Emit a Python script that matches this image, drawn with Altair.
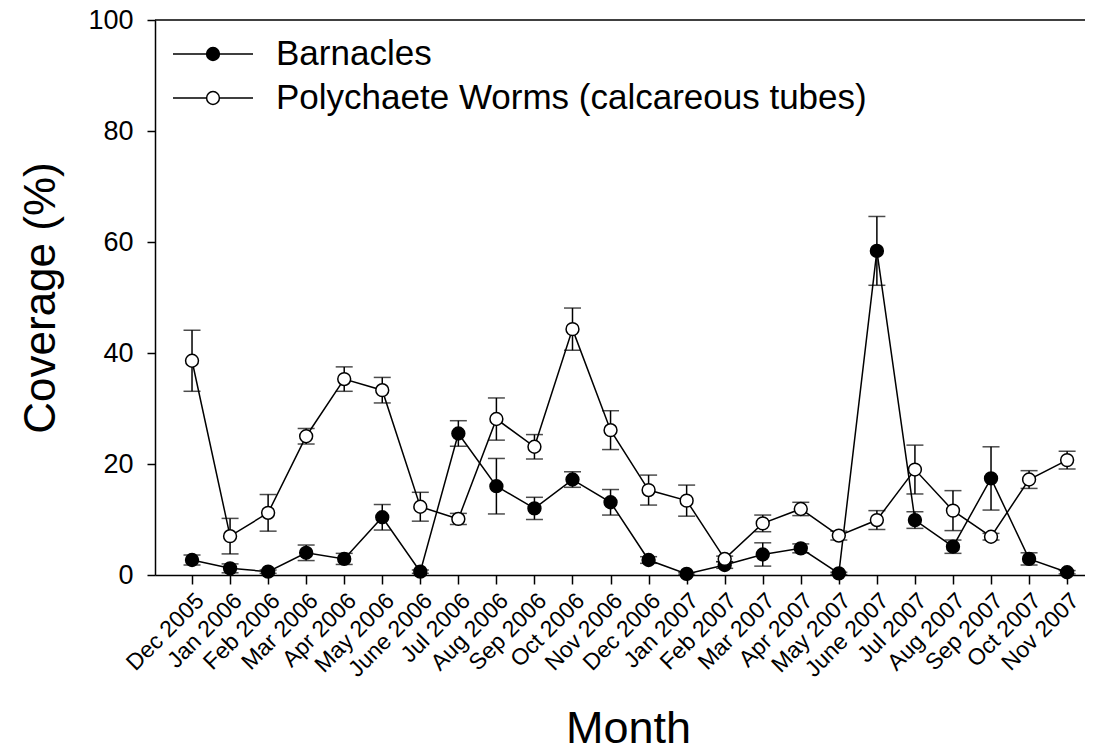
import altair as alt
import pandas as pd

months = ["Dec 2005", "Jan 2006", "Feb 2006", "Mar 2006", "Apr 2006", "May 2006",
          "June 2006", "Jul 2006", "Aug 2006", "Sep 2006", "Oct 2006", "Nov 2006",
          "Dec 2006", "Jan 2007", "Feb 2007", "Mar 2007", "Apr 2007", "May 2007",
          "June 2007", "Jul 2007", "Aug 2007", "Sep 2007", "Oct 2007", "Nov 2007"]

barnacles = [2.7, 1.2, 0.6, 4.0, 2.9, 10.4, 0.6, 25.5, 16.0, 12.0, 17.2, 13.1,
             2.7, 0.2, 1.8, 3.7, 4.8, 0.3, 58.4, 9.9, 5.1, 17.4, 2.9, 0.5]
barnacles_err = [0.9, 0.8, 0.3, 1.4, 1.0, 2.3, 0.3, 2.3, 5.0, 2.0, 1.4, 2.3,
                 0.6, 0.2, 0.6, 2.1, 0.8, 0.2, 6.2, 1.5, 1.2, 5.7, 1.1, 0.3]

polychaete = [38.6, 7.0, 11.2, 25.0, 35.3, 33.3, 12.3, 10.1, 28.1, 23.1, 44.3, 26.1,
              15.3, 13.4, 2.9, 9.3, 11.9, 7.1, 9.9, 19.0, 11.6, 6.9, 17.2, 20.7]
polychaete_err = [5.5, 3.2, 3.3, 1.4, 2.2, 2.3, 2.6, 1.0, 3.8, 2.2, 3.8, 3.5,
                  2.7, 2.8, 0.5, 1.5, 1.2, 0.8, 1.7, 4.4, 3.6, 0.6, 1.6, 1.6]

series_names = ["Barnacles", "Polychaete Worms (calcareous tubes)"]

rows = []
for name, vals, errs in [(series_names[0], barnacles, barnacles_err),
                         (series_names[1], polychaete, polychaete_err)]:
    for i, (v, e) in enumerate(zip(vals, errs)):
        rows.append({"idx": i, "month": months[i], "series": name, "value": v,
                     "lo": max(v - e, 0), "hi": v + e})
df = pd.DataFrame(rows)

W, H = 930, 555
FONT = "Liberation Sans"

label_expr = "[" + ",".join("'" + m + "'" for m in months) + "][datum.value]"

x_axis = alt.Axis(values=list(range(len(months))), labelExpr=label_expr, title="Month",
                  labelAngle=315, labelAlign="right", labelBaseline="top",
                  labelFontSize=23, labelPadding=5, tickSize=9, tickWidth=1.5,
                  domainWidth=1.5, domainColor="black", tickColor="black",
                  labelColor="black", grid=False, titleFontSize=45,
                  titleFontWeight="normal", titleColor="black",
                  titleX=473, titleY=167, titleBaseline="alphabetic", titleAlign="center",
                  labelOverlap=False, labelFont=FONT, titleFont=FONT)
y_axis = alt.Axis(values=[0, 20, 40, 60, 80, 100], title="Coverage (%)",
                  labelFontSize=27, labelPadding=14, tickSize=8, tickWidth=1.5,
                  domainWidth=1.5, domainColor="black", tickColor="black",
                  labelColor="black", grid=False, titleFontSize=44,
                  titleFontWeight="normal", titleColor="black", titleAngle=270,
                  titleX=-114, titleY=H / 2, titleBaseline="middle", titleAlign="center",
                  labelFont=FONT, titleFont=FONT)

x_scale = alt.Scale(domain=[-0.973, 23.47], nice=False, zero=False)
y_scale = alt.Scale(domain=[0, 100], nice=False)

def X():
    return alt.X("idx:Q", scale=x_scale, axis=x_axis, title="Month")

def Y(field):
    return alt.Y(field + ":Q", scale=y_scale, axis=y_axis, title="Coverage (%)")

base = alt.Chart(df)

lines = base.mark_line(color="black", strokeWidth=1.5).encode(
    x=X(), y=Y("value"), detail="series:N")

bars = base.mark_rule(color="black", strokeWidth=1.5).encode(
    x=X(), y=Y("lo"), y2="hi:Q")
cap_hi = base.mark_tick(orient="horizontal", size=17, thickness=1.5, color="black").encode(
    x=X(), y=Y("hi"))
cap_lo = base.mark_tick(orient="horizontal", size=17, thickness=1.5, color="black").encode(
    x=X(), y=Y("lo"))

legend_path = ("M-1,0H-0.16 M0.16,0H1 "
               "M-0.16,0A0.16,0.16,0,1,1,0.16,0A0.16,0.16,0,1,1,-0.16,0Z")

points = base.mark_point(shape="circle", filled=True, size=165, stroke="black",
                         strokeWidth=1.5, opacity=1).encode(
    x=X(), y=Y("value"),
    fill=alt.Fill("series:N",
                  scale=alt.Scale(domain=series_names, range=["black", "white"]),
                  legend=alt.Legend(orient="none", legendX=17, legendY=12, title=None,
                                    symbolType=legend_path, symbolSize=6400,
                                    symbolStrokeColor="black", symbolStrokeWidth=1.5,
                                    symbolOpacity=1, clipHeight=44,
                                    labelFontSize=35, labelFont=FONT, labelColor="black",
                                    labelOffset=22, rowPadding=0, padding=0,
                                    labelLimit=1000)))

top_line = alt.Chart(pd.DataFrame({"v": [100]})).mark_rule(color="black", strokeWidth=1.5).encode(
    y=alt.Y("v:Q", scale=y_scale, axis=y_axis, title="Coverage (%)"),
    x=alt.value(0), x2=alt.value(W))

chart = alt.layer(lines, bars, cap_hi, cap_lo, points, top_line).properties(
    width=W, height=H,
    autosize=alt.AutoSizeParams(type="none"),
    padding={"left": 147, "top": 12, "right": 0, "bottom": 171},
).configure(font=FONT).configure_view(stroke=None)

chart.save("out.html", embed_options={"renderer": "svg", "actions": False})
